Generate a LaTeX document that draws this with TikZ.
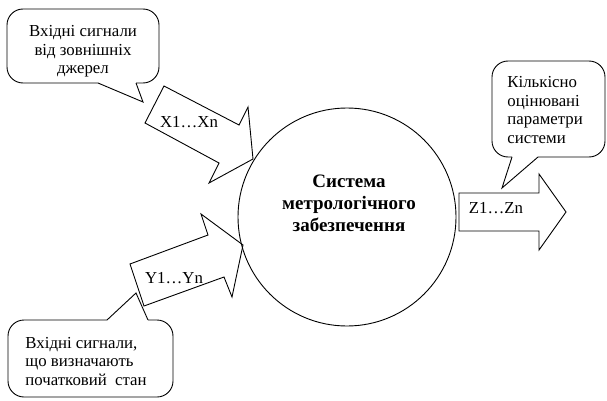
\documentclass[tikz,border=0pt]{standalone}
\usepackage{fontspec}
\setmainfont{Liberation Serif}
\begin{document}
\begin{tikzpicture}[x=1pt,y=-1pt,line width=0.9pt,line join=miter,
  txt/.style={font=\fontsize{16.8}{18.5}\selectfont,inner sep=0pt},
  boldtxt/.style={font=\fontsize{19}{22}\selectfont\bfseries,inner sep=0pt,align=center},
  bubble/.style={draw=black,rounded corners=16pt},
  fatarrow/.style={draw=black}]
\useasboundingbox (0,0) rectangle (607,401);
% circle
\node[draw=black,circle,minimum size=218pt,inner sep=0pt] (sys) at (347,217) {};
\node[boldtxt,anchor=base] (systxt) at (349,231) {Система\\метрологічного\\забезпечення};
% X arrow
\draw[fatarrow] (253,159) -- (248,107) -- (239,125) -- (164,86) -- (145,123) -- (219,163) -- (209,183) -- cycle;
\node[txt,anchor=base] (xl) at (189,128) {X1…Xn};
% Y arrow
\draw[fatarrow] (243,245) -- (201,214) -- (208,235) -- (130,264) -- (144,306) -- (224,277) -- (232,297) -- cycle;
\node[txt,anchor=base] (yl) at (174,283) {Y1…Yn};
% Z arrow
\draw[fatarrow] (459,193) -- (539,193) -- (539,174) -- (566,212) -- (539,250) -- (539,231) -- (459,231) -- cycle;
\node[txt,anchor=base] (zl) at (496,213) {Z1…Zn};
% callout 1
\draw[bubble] (136,83) -- (159,83) -- (159,9) -- (7,9) -- (7,83) -- (98,83);
\draw (98,83) -- (143,102) -- (136,83);
\node[txt,align=center,anchor=base] (c1) at (83,74) {Вхідні сигнали\\від зовнішніх\\джерел};
% callout 2
\draw[bubble] (107,320) -- (8,320) -- (8,397) -- (173,397) -- (173,320) -- (148,320);
\draw (107,320) -- (136,293) -- (148,320);
\node[txt,align=left,anchor=base west] (c2) at (25,385) {Вхідні сигнали,\\що визначають\\початковий\ \ стан};
% callout 3
\draw[bubble] (538,157) -- (605,157) -- (605,61) -- (492,61) -- (492,157) -- (512,157);
\draw (512,157) -- (502,188) -- (538,157);
\node[txt,align=left,anchor=base west] (c3) at (507,143) {Кількісно\\оцінювані\\параметри\\системи};
\end{tikzpicture}
\end{document}
